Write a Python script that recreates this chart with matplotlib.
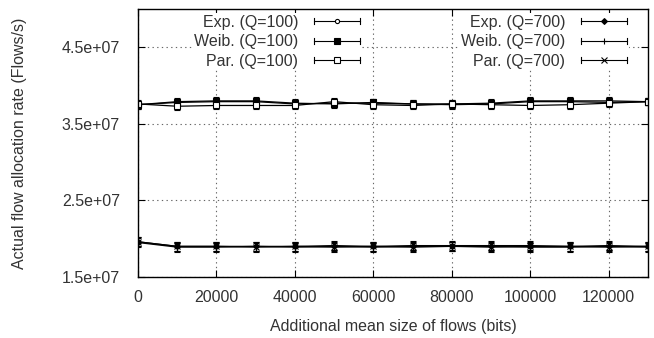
import numpy as np
import matplotlib
matplotlib.use('Agg')
import matplotlib.pyplot as plt
from matplotlib.legend import Legend
from matplotlib.legend_handler import HandlerLine2D
from matplotlib.lines import Line2D

x = np.arange(0, 140000, 10000)

exp100 = [3.75, 3.78, 3.79, 3.79, 3.76, 3.77, 3.77, 3.76, 3.75, 3.76, 3.79, 3.79, 3.78, 3.79]
weib100 = [3.75, 3.79, 3.80, 3.80, 3.77, 3.76, 3.78, 3.76, 3.76, 3.77, 3.80, 3.80, 3.80, 3.79]
par100 = [3.76, 3.73, 3.74, 3.74, 3.74, 3.79, 3.75, 3.74, 3.76, 3.75, 3.74, 3.75, 3.77, 3.79]
exp700 = [1.96, 1.90, 1.90, 1.90, 1.90, 1.91, 1.90, 1.91, 1.91, 1.91, 1.91, 1.90, 1.91, 1.90]
weib700 = [1.95, 1.89, 1.89, 1.90, 1.89, 1.90, 1.89, 1.90, 1.90, 1.90, 1.89, 1.89, 1.90, 1.89]
par700 = [1.96, 1.90, 1.90, 1.89, 1.90, 1.89, 1.90, 1.89, 1.90, 1.89, 1.90, 1.90, 1.89, 1.90]
err100 = 0.05
err700 = 0.06

series = [
    ('Exp. (Q=100)', exp100, err100, dict(marker='o', ms=3, mfc='white')),
    ('Weib. (Q=100)', weib100, err100, dict(marker='s', ms=4.5, mfc='black')),
    ('Par. (Q=100)', par100, err100, dict(marker='s', ms=4, mfc='white')),
    ('Exp. (Q=700)', exp700, err700, dict(marker='D', ms=3, mfc='black')),
    ('Weib. (Q=700)', weib700, err700, dict(marker='+', ms=5, mfc='black')),
    ('Par. (Q=700)', par700, err700, dict(marker='x', ms=4, mfc='black')),
]

plt.rcParams['font.family'] = ['Liberation Sans', 'DejaVu Sans']
plt.rcParams['font.size'] = 11.5
txt = '#333333'

fig = plt.figure(figsize=(6.54, 3.38), dpi=100)
ax = fig.add_axes([138 / 654, 1 - 277 / 338, 510 / 654, 268 / 338])

handles = []
for lab, vals, e, st in series:
    v = np.array(vals) * 1e7
    ax.errorbar(x, v, yerr=e * 1e7, color='black', lw=0.9, capsize=2.5,
                elinewidth=0.8, mec='black', mew=0.8, **st)
    handles.append(Line2D([], [], color='black', lw=0.8, mec='black', mew=0.8, label=lab, **st))


class GnuHandler(HandlerLine2D):
    def create_artists(self, legend, orig, xd, yd, w, h, fs, trans):
        arts = super().create_artists(legend, orig, xd, yd, w, h, fs, trans)
        y0 = h / 2 - yd
        for xx in (-xd, -xd + w):
            arts.append(Line2D([xx, xx], [y0 - 2.2, y0 + 2.2], color='black', lw=0.8, transform=trans))
        return arts


for grp, xr in ((handles[:3], 362), (handles[3:], 629)):
    leg = Legend(ax, grp, [h.get_label() for h in grp], frameon=True, fancybox=False,
                 facecolor='white', edgecolor='none', framealpha=1,
                 markerfirst=False, loc='upper right',
                 bbox_to_anchor=(xr / 654, 1 - 13 / 338), bbox_transform=fig.transFigure,
                 borderpad=0.1, borderaxespad=0, handlelength=2.9, handletextpad=1.0,
                 labelspacing=0.29, numpoints=1,
                 handler_map={Line2D: GnuHandler(numpoints=1)})
    for t in leg.get_texts():
        t.set_color(txt)
    leg.set_zorder(5)
    ax.add_artist(leg)

ax.set_xlim(0, 130000)
ax.set_ylim(1.5e7, 5e7)
ax.set_xticks(np.arange(0, 130000, 20000))
yt = [1.5e7, 2.5e7, 3.5e7, 4.5e7]
ax.set_yticks(yt)
ax.set_yticklabels(['1.5e+07', '2.5e+07', '3.5e+07', '4.5e+07'])
ax.grid(True, color='#666666', linestyle=(0, (1.2, 3)), lw=0.8)
ax.tick_params(direction='in', top=True, right=True, length=5, colors='black',
               labelcolor=txt, labelsize=11.5)
ax.tick_params(axis='x', pad=9)
ax.tick_params(axis='y', pad=13)
ax.set_xlabel('Additional mean size of flows (bits)', color=txt, va='center')
ax.xaxis.set_label_coords(0.5, -(327 - 277) / 268)
ax.set_ylabel('Actual flow allocation rate (Flows/s)', color=txt, va='center')
ax.yaxis.set_label_coords(-(138 - 20) / 510, 0.5)
for s in ax.spines.values():
    s.set_linewidth(1)

fig.savefig('out.png', dpi=100)
